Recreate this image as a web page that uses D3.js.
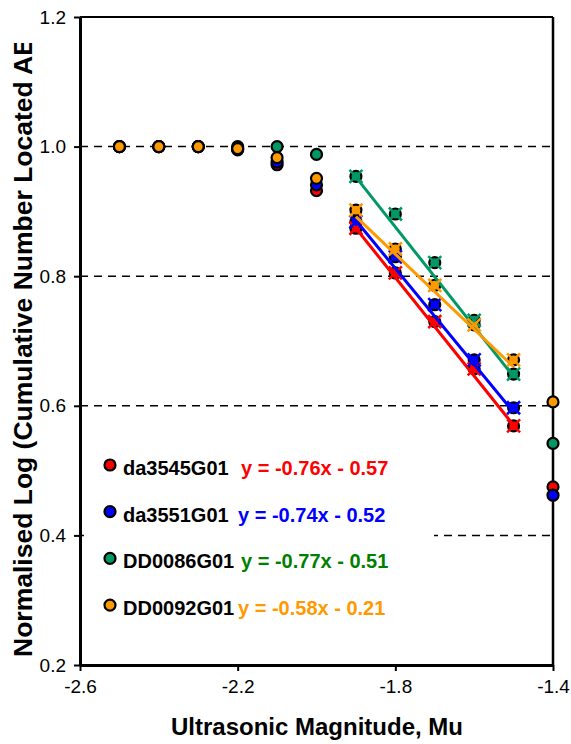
<!DOCTYPE html>
<html>
<head>
<meta charset="utf-8">
<script src="https://cdn.jsdelivr.net/npm/d3@7/dist/d3.min.js"></script>
<style>
  html, body { margin: 0; padding: 0; background: #fff; }
  svg { display: block; font-family: "Liberation Sans", Arial, sans-serif; }
</style>
</head>
<body>
<svg id="chart" width="571" height="744"></svg>
<script>
// Ultrasonic magnitude bins (Mu)
const magnitudes = [-2.5, -2.4, -2.3, -2.2, -2.1, -2.0, -1.9, -1.8, -1.7, -1.6, -1.5, -1.4];

// Normalised log of cumulative located AE counts, one array per specimen
const da3545G01 = [1.0, 1.0, 1.0, 0.995, 0.972, 0.932, 0.874, 0.805, 0.730, 0.657, 0.569, 0.475];
const da3551G01 = [1.0, 1.0, 1.0, 0.996, 0.976, 0.941, 0.884, 0.830, 0.756, 0.671, 0.597, 0.462];
const DD0086G01 = [1.0, 1.0, 1.0, 1.0, 1.0, 0.988, 0.954, 0.896, 0.821, 0.732, 0.649, 0.542];
const DD0092G01 = [1.0, 1.0, 1.0, 0.997, 0.983, 0.951, 0.902, 0.842, 0.786, 0.725, 0.671, 0.606];

const seriesNames = ["da3545G01", "da3551G01", "DD0086G01", "DD0092G01"];
const seriesValues = [da3545G01, da3551G01, DD0086G01, DD0092G01];

// Linear fits over the straight part of each curve: y = slope * x + intercept
const fitSlopes = [-0.76, -0.74, -0.77, -0.58];
const fitIntercepts = [-0.57, -0.52, -0.51, -0.21];
const fitRange = [-1.9, -1.5];

const xTicks = [-2.6, -2.2, -1.8, -1.4];
const yTicks = [0.2, 0.4, 0.6, 0.8, 1.0, 1.2];
const gridValues = [0.4, 0.6, 0.8, 1.0];

const markerColors = ["#ff0000", "#0000ff", "#009966", "#ff9900"];
const equationColors = ["#ff0000", "#0000ff", "#008000", "#ff9900"];

const svg = d3.select("#chart");
const plot = { left: 80, right: 553, top: 17, bottom: 665 };

const x = d3.scaleLinear().domain([-2.6, -1.4]).range([plot.left, plot.right]);
const y = d3.scaleLinear().domain([0.2, 1.2]).range([plot.bottom, plot.top]);

// plain hyphen-minus for negative numbers
const num = v => (v < 0 ? "-" : "") + Math.abs(v).toFixed(1);

// Dashed horizontal gridlines
svg.append("g").selectAll("line").data(gridValues).join("line")
  .attr("x1", plot.left).attr("x2", plot.right)
  .attr("y1", d => y(d)).attr("y2", d => y(d))
  .attr("stroke", "#000").attr("stroke-width", 1.5)
  .attr("stroke-dasharray", "8,6");

// Frame: top and right borders
svg.append("line").attr("x1", plot.left).attr("x2", plot.right)
  .attr("y1", plot.top).attr("y2", plot.top)
  .attr("stroke", "#000").attr("stroke-width", 2);
svg.append("line").attr("x1", plot.right).attr("x2", plot.right)
  .attr("y1", plot.top).attr("y2", plot.bottom)
  .attr("stroke", "#000").attr("stroke-width", 2.5);

// Axes
const xAxis = d3.axisBottom(x).tickValues(xTicks).tickSize(6).tickPadding(9)
  .tickFormat(num).tickSizeOuter(0);
const yAxis = d3.axisLeft(y).tickValues(yTicks).tickSize(6).tickPadding(8)
  .tickFormat(num).tickSizeOuter(0);

const gx = svg.append("g").attr("transform", `translate(0,${plot.bottom})`).call(xAxis);
const gy = svg.append("g").attr("transform", `translate(${plot.left},0)`).call(yAxis);
[gx, gy].forEach(g => {
  g.select(".domain").attr("stroke", "#000").attr("stroke-width", 3);
  g.selectAll(".tick line").attr("stroke", "#000").attr("stroke-width", 2);
  g.selectAll(".tick text").attr("fill", "#000")
    .style("font-family", "'Liberation Sans', Arial, sans-serif")
    .style("font-size", "19px");
});
gx.selectAll(".tick text").attr("dy", "0.71em");

// Data markers (circles with dark outline)
seriesValues.forEach((vals, i) => {
  svg.append("g").selectAll("circle").data(vals.map((v, j) => [magnitudes[j], v])).join("circle")
    .attr("cx", d => x(d[0])).attr("cy", d => y(d[1])).attr("r", 5.5)
    .attr("fill", markerColors[i]).attr("stroke", "#000").attr("stroke-width", 2.2);
});

// Fitted lines and cross markers on the fitted points
seriesValues.forEach((vals, i) => {
  const line = d3.line().x(d => x(d)).y(d => y(fitSlopes[i] * d + fitIntercepts[i]));
  svg.append("path").datum(fitRange).attr("d", line)
    .attr("fill", "none").attr("stroke", markerColors[i]).attr("stroke-width", 3);
  const pts = magnitudes.map((m, j) => [m, vals[j]])
    .filter(d => d[0] >= fitRange[0] - 1e-9 && d[0] <= fitRange[1] + 1e-9);
  const cross = svg.append("g");
  const s = 6.5;
  pts.forEach(d => {
    const cx = x(d[0]), cy = y(d[1]);
    cross.append("path")
      .attr("d", `M${cx - s},${cy - s}L${cx + s},${cy + s}M${cx - s},${cy + s}L${cx + s},${cy - s}`)
      .attr("stroke", markerColors[i]).attr("stroke-width", 2.5).attr("fill", "none");
  });
});

// Legend panel with fit equations
const legend = svg.append("g");
legend.append("rect").attr("x", 84).attr("y", 443).attr("width", 350).attr("height", 185)
  .attr("fill", "#fff");
seriesNames.forEach((name, i) => {
  const base = 475 + i * 46.7;
  legend.append("circle").attr("cx", 110).attr("cy", base - 10).attr("r", 5.5)
    .attr("fill", markerColors[i]).attr("stroke", "#000").attr("stroke-width", 2.2);
  legend.append("text").attr("x", 123).attr("y", base)
    .attr("font-size", 20).attr("font-weight", "bold").attr("fill", "#000")
    .text(name);
  const b = fitIntercepts[i];
  legend.append("text").attr("x", i % 2 === 0 ? 241 : 238).attr("y", base)
    .attr("font-size", 20).attr("font-weight", "bold").attr("fill", equationColors[i])
    .attr("xml:space", "preserve")
    .text(`y = ${(fitSlopes[i] < 0 ? "-" : "") + Math.abs(fitSlopes[i]).toFixed(2)}x ${b < 0 ? "-" : "+"} ${Math.abs(b).toFixed(2)}`);
});

// Axis titles
svg.append("text").attr("x", 317).attr("y", 735).attr("text-anchor", "middle")
  .attr("font-size", 24).attr("font-weight", "bold").attr("fill", "#000")
  .text("Ultrasonic Magnitude, Mu");

svg.append("clipPath").attr("id", "ytitle-clip")
  .append("rect").attr("x", 0).attr("y", 43).attr("width", 60).attr("height", 700);
svg.append("g").attr("clip-path", "url(#ytitle-clip)")
  .append("text")
  .attr("transform", "translate(32,657) rotate(-90)")
  .attr("text-anchor", "start")
  .attr("font-size", 26.5).attr("font-weight", "bold").attr("fill", "#000")
  .text("Normalised Log (Cumulative Number Located AE)");
</script>
</body>
</html>
